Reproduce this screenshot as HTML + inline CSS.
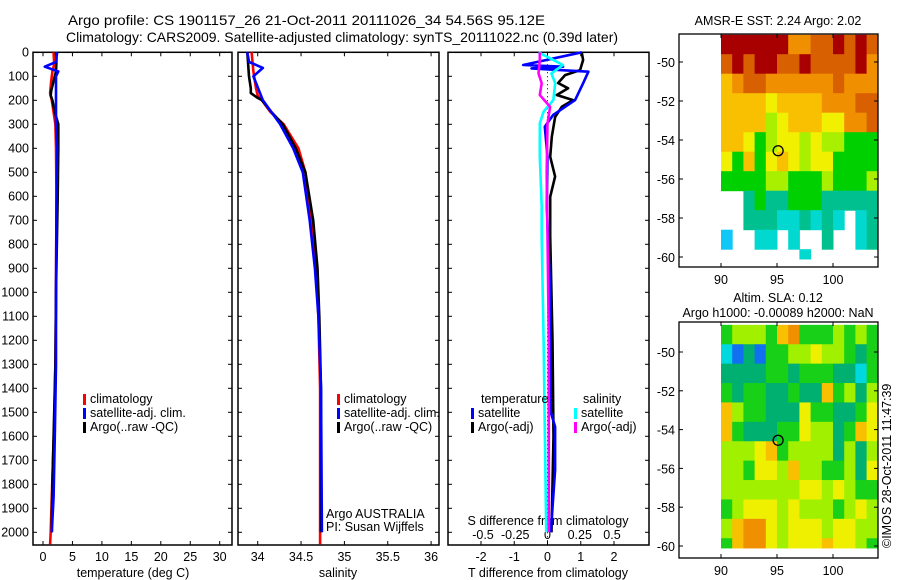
<!DOCTYPE html>
<html><head><meta charset="utf-8"><style>
body{margin:0;background:#fff}
svg{display:block;font-family:"Liberation Sans",sans-serif;font-size:12.5px}
</style></head><body>
<svg id="c" width="900" height="580" xmlns="http://www.w3.org/2000/svg">
<text x="68" y="25" font-size="14" textLength="477" lengthAdjust="spacingAndGlyphs">Argo profile: CS 1901157_26 21-Oct-2011 20111026_34 54.56S 95.12E</text>
<text x="66" y="42" font-size="14" textLength="552" lengthAdjust="spacingAndGlyphs">Climatology: CARS2009. Satellite-adjusted climatology: synTS_20111022.nc (0.39d later)</text>
<text x="778" y="25" text-anchor="middle">AMSR-E SST: 2.24 Argo: 2.02</text>
<text x="778" y="302" text-anchor="middle">Altim. SLA: 0.12</text>
<text x="778" y="317" text-anchor="middle">Argo h1000: -0.00089 h2000: NaN</text>
<text transform="translate(891,548) rotate(-90)" font-size="12.5">©IMOS 28-Oct-2011 11:47:39</text>
</svg>
<script>
// ---- data ----
const depthTicks=[0,100,200,300,400,500,600,700,800,900,1000,1100,1200,1300,1400,1500,1600,1700,1800,1900,2000];
const tempTicks=[0,5,10,15,20,25,30];
const salTicks=[34,34.5,35,35.5,36];
const salTickLabels=["34","34.5","35","35.5","36"];
const tdTicks=[-2,-1,0,1,2];
const sdTicks=[-0.5,-0.25,0,0.25,0.5];
const sdTickLabels=["-0.5","-0.25","0","0.25","0.5"];
const tClimD=[0,50,80,120,170,200,250,300,400,600,1000,1300,1550,1850,2000,2050];
const tClimV=[1.8,1.9,1.6,1.4,1.2,1.5,1.8,2.1,2.2,2.3,2.2,2.1,1.9,1.5,1.3,1.2];
const tArgoD=[0,30,80,110,160,180,200,250,300,400,600,1000,1300,1600,1800,1950,2000];
const tArgoV=[2.2,2.3,2.2,1.9,1.4,1.3,1.6,2.0,2.6,2.6,2.5,2.2,2.1,1.8,1.6,1.5,1.5];
const tSatD=[0,40,60,80,100,200,300,400,600,1000,1300,1600,1850,2000];
const tSatV=[2.4,2.2,0.3,2.6,2.2,2.2,2.2,2.4,2.3,2.2,2.2,2.0,1.8,1.5];
const sClimD=[0,80,150,180,200,250,300,400,500,700,900,1100,1400,2050];
const sClimV=[33.93,33.95,33.98,34.0,34.05,34.15,34.3,34.47,34.55,34.62,34.67,34.7,34.72,34.72];
const sArgoD=[0,100,150,170,190,200,250,300,400,500,700,900,1100,1400,2000];
const sArgoV=[33.88,33.9,33.92,33.92,34.0,34.05,34.16,34.29,34.44,34.55,34.64,34.69,34.71,34.73,34.73];
const sSatD=[0,40,65,100,200,300,400,500,700,900,1100,1400,2000];
const sSatV=[33.88,33.9,34.06,33.95,34.06,34.26,34.41,34.52,34.6,34.66,34.7,34.73,34.74];
const dTSatD=[0,53,60,67,81,129,199,261,310,435,643,1000,1500,1560,1740,2000];
const dTSatV=[1.03,-0.73,0.47,-0.48,1.23,1.07,0.83,0.17,-0.08,0,-0.02,0.08,0.1,0.23,0.23,0.1];
const dTArgoD=[0,32,74,95,128,150,178,199,227,270,352,435,518,602,768,1200,1600,2000];
const dTArgoV=[1.03,1.07,0.98,0.53,0.32,0.62,0.28,0.77,0.43,0.23,0.13,0.08,0.23,0.08,0.08,0.15,0.18,0.12];
const dSSatD=[0,53,88,129,199,247,296,435,643,768,1200,1600,2000];
const dSSatV=[-0.07,0.12,0.03,0.06,0.045,-0.03,-0.06,-0.06,-0.045,-0.045,-0.03,-0.02,-0.01];
const dSArgoD=[0,32,88,129,178,227,296,504,768,1200,2000];
const dSArgoV=[-0.06,-0.06,-0.07,-0.045,-0.06,0.02,0,-0.006,0,0.01,0.01];
const sstGrid=["AAAAAA8899A9A9","9A9AA99A9999A8","78998888889888","77776777788899","77775677766889","77645665655444","64746765664444","44445544454445","00343344433333","00333223232023","10022020030023","00000002000000"];
const slaGrid=["45554784445454","21314455655434","33334434443324","43443343374535","75443336443346","74333446553476","55567455553535","55466575544536","55555556656544","45666565554565","57886566656655","47886566676654"];
const latTicks=[-50,-52,-54,-56,-58,-60];
const lonTicks=[90,95,100];
const argoLon=95.1, argoLat=-54.55;

// ---- drawing ----
const svg=document.getElementById('c');
const NS="http://www.w3.org/2000/svg";
function mk(tag,attrs,parent){const e=document.createElementNS(NS,tag);for(const k in attrs)e.setAttribute(k,attrs[k]);(parent||svg).appendChild(e);return e;}
const top0=52.3, ppm=0.24, bottom=545;
const yD=d=>top0+d*ppm;
const panels=[
 {name:'temperature',x0:33,x1:232,f:v=>43+v*5.89},
 {name:'salinity',x0:238,x1:439,f:v=>257.7+(v-34)*86.7},
 {name:'difference',x0:448,x1:649,f:v=>547.5+v*33.25}];
const sdX=v=>547.5+v*129;

panels.forEach((p,i)=>{
 const g=mk('g',{});
 
 
 const fr=mk('rect',{x:p.x0,y:top0,width:p.x1-p.x0,height:bottom-top0,fill:'none',stroke:'#000','stroke-width':1.5},g);
 
 
 depthTicks.forEach(d=>{
  mk('line',{x1:p.x0,x2:p.x0+4,y1:yD(d),y2:yD(d),stroke:'#000'},g);
  mk('line',{x1:p.x1,x2:p.x1-4,y1:yD(d),y2:yD(d),stroke:'#000'},g);
  if(i===0){const t=mk('text',{x:p.x0-4,y:yD(d)+4,'text-anchor':'end'},g);t.textContent=d;
   
   }
 });
});
function xTicks(vals,labels,f,panel,ly,name,top){
 vals.forEach((v,k)=>{
  const x=f(v);
  mk('line',{x1:x,x2:x,y1:bottom,y2:bottom-4,stroke:'#000'});
  if(top) mk('line',{x1:x,x2:x,y1:top0,y2:top0+4,stroke:'#000'});
  const t=mk('text',{x:x,y:ly,'text-anchor':'middle'});t.textContent=labels[k];
  
  
 });
}
xTicks(tempTicks,tempTicks.map(String),panels[0].f,0,561,'temperature-tick-label',true);
xTicks(salTicks,salTickLabels,panels[1].f,1,561,'salinity-tick-label',true);
xTicks(tdTicks,tdTicks.map(String),panels[2].f,2,561,'t-diff-tick-label',true);
sdTicks.forEach((v,k)=>{const t=mk('text',{x:sdX(v),y:539,'text-anchor':'middle'});t.textContent=sdTickLabels[k];
 
 });
function lbl(x,y,s,name,anchor){const t=mk('text',{x:x,y:y,'text-anchor':anchor||'middle'});t.textContent=s;
 
 return t;}
lbl(133,577,'temperature (deg C)','temperature-axis-title');
lbl(338,577,'salinity','salinity-axis-title');
lbl(548,577,'T difference from climatology','t-diff-axis-title');
lbl(548,525,'S difference from climatology','s-diff-axis-title');
lbl(326,518,'Argo AUSTRALIA','institution-label','start');
lbl(326,531,'PI: Susan Wijffels','pi-label','start');
mk('line',{x1:547.5,x2:547.5,y1:top0,y2:bottom,stroke:'#000','stroke-dasharray':'1,3'});

function series(D,V,f,color,name){
 const pts=D.map((d,k)=>f(V[k]).toFixed(1)+','+yD(d).toFixed(1)).join(' ');
 const pl=mk('polyline',{points:pts,fill:'none',stroke:color,'stroke-width':2.6,'stroke-linejoin':'round'});
 
 
}
series(tClimD,tClimV,panels[0].f,'#f00','temp-climatology-line');
series(tArgoD,tArgoV,panels[0].f,'#000','temp-argo-line');
series(tSatD,tSatV,panels[0].f,'#0000ff','temp-satellite-line');
series(sClimD,sClimV,panels[1].f,'#f00','sal-climatology-line');
series(sArgoD,sArgoV,panels[1].f,'#000','sal-argo-line');
series(sSatD,sSatV,panels[1].f,'#0000ff','sal-satellite-line');
series(dTArgoD,dTArgoV,panels[2].f,'#000','tdiff-argo-line');
series(dTSatD,dTSatV,panels[2].f,'#0000ff','tdiff-satellite-line');
series(dSSatD,dSSatV,sdX,'#00ffff','sdiff-satellite-line');
series(dSArgoD,dSArgoV,sdX,'#ff00ff','sdiff-argo-line');

function legend(x,y,items,name){
 items.forEach((it,k)=>{
  const yy=y+k*14;
  mk('rect',{x:x,y:yy-9,width:3,height:11,fill:it[1]});
  const t=mk('text',{x:x+7,y:yy});t.textContent=it[0];
  
  
 });
}
legend(83,403,[['climatology','#f00'],['satellite-adj. clim.','#0000ff'],['Argo(..raw -QC)','#000']],'temp-legend');
legend(337,403,[['climatology','#f00'],['satellite-adj. clim.','#0000ff'],['Argo(..raw -QC)','#000']],'sal-legend');
lbl(481,403,'temperature','legend-temperature-heading','start');
lbl(583,403,'salinity','legend-salinity-heading','start');
legend(471,417,[['satellite','#0000ff'],['Argo(-adj)','#000']],'tdiff-legend');
legend(574,417,[['satellite','#00ffff'],['Argo(-adj)','#ff00ff']],'sdiff-legend');

// maps
const sstCol={'1':'#10c8f8','2':'#00d8d0','3':'#00c090','4':'#00d000','5':'#a8f000','6':'#f0f000','7':'#f8c000','8':'#f09000','9':'#d86000','A':'#a80000'};
const slaCol={'1':'#1070f0','2':'#00d8e0','3':'#00b070','4':'#18d018','5':'#a0f000','6':'#eef000','7':'#f8c000','8':'#f09000'};
function map(grid,cols,fx0,fy0,fx1,fy1,lat50y,ppd,name){
 const lonX=l=>721+(l-90)*11.2;
 const latY=l=>lat50y+(-50-l)*ppd;
 const g=mk('g',{});
 
 
 grid.forEach((row,r)=>{
  [...row].forEach((ch,c)=>{
   if(ch==='0')return;
   const y0=latY(-48.6-r), y1=Math.min(latY(-49.6-r),latY(-60.1));
   if(y1<=y0)return;
   mk('rect',{x:lonX(90+c),y:y0,width:lonX(91+c)-lonX(90+c)+0.5,height:y1-y0+0.5,fill:cols[ch]},g);
  });
 });
 mk('rect',{x:fx0,y:fy0,width:fx1-fx0,height:fy1-fy0,fill:'none',stroke:'#000','stroke-width':1.3},g);
 latTicks.forEach(l=>{
  const y=latY(l);
  mk('line',{x1:fx0,x2:fx0+4,y1:y,y2:y,stroke:'#000'},g);
  mk('line',{x1:fx1,x2:fx1-4,y1:y,y2:y,stroke:'#000'},g);
  const t=mk('text',{x:fx0-4,y:y+5,'text-anchor':'end'},g);t.textContent=l;
  
  
 });
 lonTicks.forEach(l=>{
  const x=lonX(l);
  mk('line',{x1:x,x2:x,y1:fy1,y2:fy1-4,stroke:'#000'},g);
  mk('line',{x1:x,x2:x,y1:fy0,y2:fy0+4,stroke:'#000'},g);
  const t=mk('text',{x:x,y:fy1+17,'text-anchor':'middle'},g);t.textContent=l;
  
  
 });
 const m=mk('circle',{cx:lonX(argoLon),cy:latY(argoLat),r:5,fill:'none',stroke:'#000','stroke-width':1.3},g);
 
 
}
map(sstGrid,sstCol,679,34,878,267,62,19.5,'sst-map');
map(slaGrid,slaCol,679,322,878,558,352,19.4,'sla-map');
</script>
</body></html>
